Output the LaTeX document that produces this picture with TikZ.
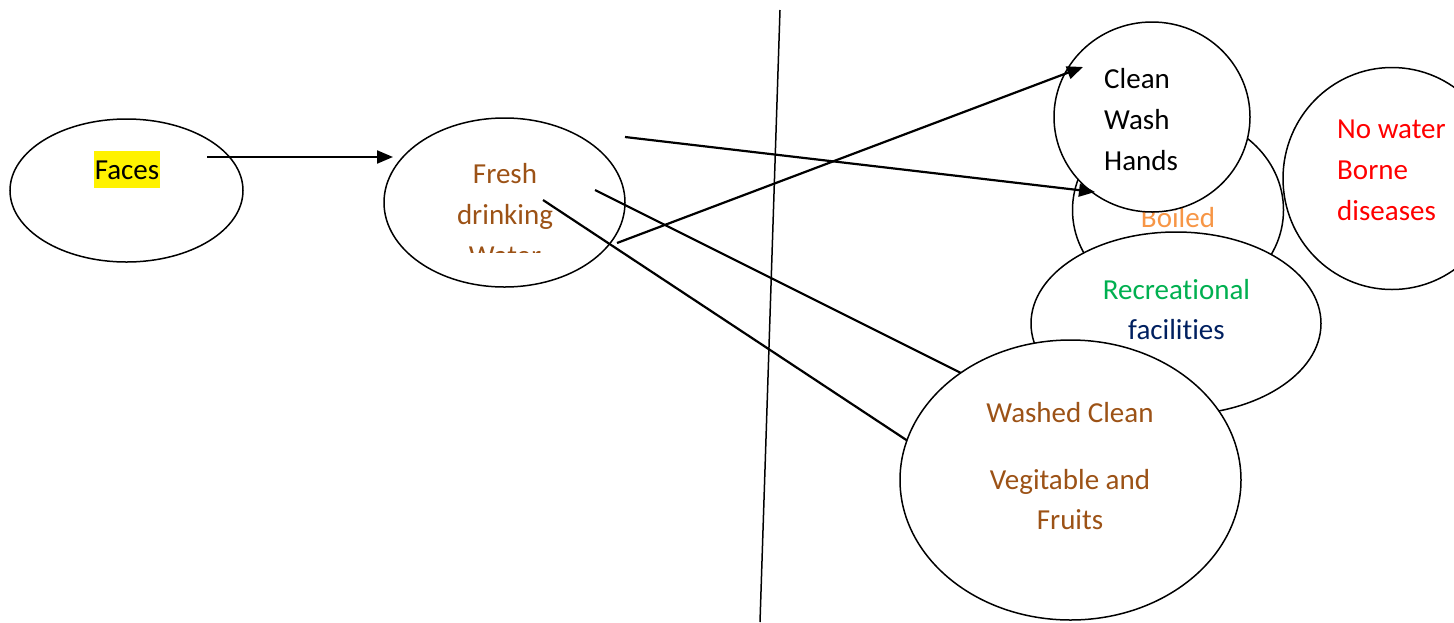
\documentclass[tikz,border=0pt]{standalone}
\usepackage{fontspec}
\setmainfont{Carlito}[Ligatures=NoCommon]
\usetikzlibrary{shapes.geometric,arrows.meta}
\definecolor{brownT}{RGB}{156,82,22}
\definecolor{boiledT}{RGB}{247,150,70}
\definecolor{greenT}{RGB}{0,176,80}
\definecolor{navyT}{RGB}{0,32,96}
\definecolor{redT}{RGB}{255,0,0}
\begin{document}
\begin{tikzpicture}[x=1pt,y=-1pt,
  oval/.style={draw, ellipse, line width=1.5pt, inner sep=0pt},
  lbl/.style={anchor=base, inner sep=0pt, font=\fontsize{29}{41}\selectfont},
  lbll/.style={lbl, anchor=base west},
  conn/.style={line width=2.2pt},
  arr/.style={conn, -{Triangle[length=16pt,width=13pt]}}]
\useasboundingbox (0,0) rectangle (1454,622);

% divider
\coordinate (divtop) at (780,10);
\coordinate (divbot) at (760,622);
\draw[line width=1.5pt] (divtop) -- (divbot);

% Faces
\node[oval, minimum width=233pt, minimum height=143pt] (faces) at (126.5,190.5) {};
\node[lbl, fill=yellow, text height=28pt, text depth=9pt, inner xsep=1pt] (facesT) at (127,179) {Faces};

% Fresh drinking water
\node[oval, minimum width=241pt, minimum height=169pt] (fresh) at (504.5,202.5) {};
\node[lbl, text=brownT] (fresh1) at (505,183) {Fresh};
\node[lbl, text=brownT] (fresh2) at (505,224) {drinking};
\begin{scope}
  \clip (440,230) rectangle (570,252);
  \node[lbl, text=brownT] (fresh3) at (505,265) {Water};
\end{scope}

% Boiled
\node[oval, fill=white, minimum width=211pt, minimum height=190pt] (boiled) at (1178,210) {};
\node[lbl, text=boiledT] (boiledT) at (1178,227) {Boiled};

% Clean wash hands
\node[oval, fill=white, minimum width=196pt, minimum height=190pt] (clean) at (1152,117) {};
\node[lbll] (clean1) at (1104,88) {Clean};
\node[lbll] (clean2) at (1104,129) {Wash};
\node[lbll] (clean3) at (1104,170) {Hands};

% Recreational facilities
\node[oval, fill=white, minimum width=290pt, minimum height=183pt] (recr) at (1176,323.5) {};
\node[lbl, text=greenT] (recr1) at (1176.5,299) {Recreational};
\node[lbl, text=navyT] (recr2) at (1176.5,339) {facilities};

% No water borne diseases
\node[oval, minimum width=218pt, minimum height=222pt] (nowater) at (1392,178.5) {};
\node[lbll, text=redT] (now1) at (1337,138) {No water};
\node[lbll, text=redT] (now2) at (1337,179) {Borne};
\node[lbll, text=redT] (now3) at (1337,220) {diseases};

% connector end points
\coordinate (fa) at (207,157);
\coordinate (frIn) at (393,157);
\coordinate (fr1) at (625,137);
\coordinate (boIn) at (1095,192);
\coordinate (fr2) at (617,243);
\coordinate (clIn) at (1083,67);
\coordinate (fr3) at (595,190);
\coordinate (wa1) at (975,380);
\coordinate (fr4) at (543,200);
\coordinate (wa2) at (920,449);

\draw[arr] (fa) -- (frIn);
\draw[arr] (fr1) -- (boIn);
\draw[arr] (fr2) -- (clIn);
\draw[conn] (fr3) -- (wa1);
\draw[conn] (fr4) -- (wa2);

% Washed clean vegetables
\node[oval, fill=white, minimum width=341pt, minimum height=280pt] (washed) at (1070.5,480) {};
\node[lbl, text=brownT] (wash1) at (1070,422) {Washed Clean};
\node[lbl, text=brownT] (wash2) at (1070,489) {Vegitable and};
\node[lbl, text=brownT] (wash3) at (1070,529) {Fruits};
\end{tikzpicture}
\end{document}
